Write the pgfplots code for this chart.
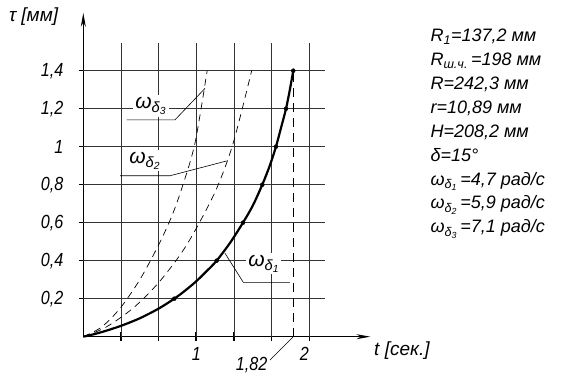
\documentclass[border=0pt]{standalone}
\usepackage{fontspec}
\setmainfont{Liberation Sans}
\newfontfamily\narrowf{Liberation Sans}[FakeStretch=0.85]
\usepackage{pgfplots}
\pgfplotsset{compat=1.18}
\usetikzlibrary{arrows.meta}

\begin{document}
\begin{tikzpicture}[font=\itshape\fontsize{18}{21}\selectfont]
\useasboundingbox (-83.3pt,-43.3pt) rectangle (479.7pt,336.7pt);
\begin{axis}[
  at={(0pt,0pt)}, anchor=origin,
  x=113pt, y=190pt,
  xmin=0, xmax=2.54, ymin=0, ymax=1.704,
  axis lines=left,
  axis line style={line width=0.9pt, -{Stealth[length=14pt,width=5pt]}},
  clip=false,
  xtick={0.33333,0.66667,1,1.33333,1.66667,2},
  xticklabels={,,1,,,{\hspace*{-10pt}2}},
  ytick={0.2,0.4,0.6,0.8,1,1.2,1.4},
  yticklabels={{0,2},{0,4},{0,6},{0,8},{1},{1,2},{1,4}},
  tick align=center,
  major tick length=9pt,
  tick style={line width=1.6pt, black},
  tick label style={font=\narrowf\itshape\fontsize{19}{22}\selectfont},
  xticklabel style={anchor=north, yshift=-3pt},
  yticklabel style={anchor=east, xshift=-12pt},
]
% grid
\pgfplotsinvokeforeach{0.33333,0.66667,1,1.33333,1.66667,2}{
  \draw[black!80, line width=0.85pt] (axis cs:#1,0) -- (axis cs:#1,1.546);
}
\pgfplotsinvokeforeach{0.2,0.4,0.6,0.8,1,1.2,1.4}{
  \draw[black!80, line width=0.85pt] (axis cs:0,#1) -- (axis cs:2.14,#1);
}
% omega_delta3
\addplot[black, line width=0.7pt, dash pattern=on 7pt off 5pt, smooth] coordinates {
 (0,0) (0.16,0.05) (0.325,0.149) (0.50,0.30) (0.664,0.48) (0.78,0.63) (0.871,0.78) (0.988,1.018) (1.096,1.4)};
% omega_delta2
\addplot[black, line width=0.7pt, dash pattern=on 7pt off 5pt, smooth] coordinates {
 (0,0) (0.2,0.05) (0.44,0.15) (0.66,0.28) (0.856,0.43) (1.0,0.57) (1.18,0.78) (1.327,1.02) (1.49,1.4)};
% t = 1.82 dashed
\addplot[black, line width=0.8pt, dash pattern=on 9pt off 6pt] coordinates {(1.858,0) (1.858,1.4)};
% omega_delta1
\addplot[black, line width=2.2pt, smooth] coordinates {
 (0,0) (0.1,0.014) (0.2,0.031) (0.333,0.057) (0.5,0.097) (0.667,0.148) (0.805,0.2) (0.9,0.242) (1.0,0.292) (1.1,0.35) (1.18,0.4) (1.3,0.495) (1.413,0.6) (1.5,0.69) (1.584,0.8) (1.65,0.9) (1.705,1.0) (1.75,1.1) (1.794,1.2) (1.828,1.3) (1.858,1.4)};
\addplot[black, only marks, mark=*, mark size=2pt] coordinates {
 (0.805,0.2) (1.18,0.4) (1.413,0.6) (1.584,0.8) (1.705,1.0) (1.794,1.2) (1.858,1.4)};
% labels
\node[fill=white, inner sep=2pt, font=\itshape\fontsize{21}{24}\selectfont] at (axis cs:0.599,1.214) {ω\textsubscript{δ\textsubscript{3}}};
\node[fill=white, inner sep=2pt, font=\itshape\fontsize{21}{24}\selectfont] at (axis cs:0.546,0.925) {ω\textsubscript{δ\textsubscript{2}}};
\node[fill=white, inner sep=2pt, font=\itshape\fontsize{21}{24}\selectfont] at (axis cs:1.598,0.383) {ω\textsubscript{δ\textsubscript{1}}};
\draw[black, line width=0.6pt] (axis cs:0.384,1.141) -- (axis cs:0.811,1.141) -- (axis cs:1.077,1.307);
\draw[black, line width=0.6pt] (axis cs:0.325,0.847) -- (axis cs:0.767,0.847) -- (axis cs:1.269,0.925);
\draw[black, line width=0.6pt] (axis cs:1.254,0.439) -- (axis cs:1.416,0.286) -- (axis cs:1.829,0.286);
\draw[black, line width=0.6pt] (axis cs:1.858,0) -- (axis cs:1.652,-0.123);
\node[font=\narrowf\itshape\fontsize{19}{22}\selectfont] at (axis cs:1.489,-0.149) {1,82};
\node[font=\itshape\fontsize{19}{22}\selectfont] at (axis cs:2.82,-0.075) {t [сек.]};
\node[font=\itshape\fontsize{19}{22}\selectfont] at (axis cs:-0.44,1.683) {τ [мм]};
\end{axis}
\begin{scope}[font=\itshape\fontsize{18}{21}\selectfont]
\node[anchor=base west] at (343.7pt,295.0pt) {R\textsubscript{1}=137,2 мм};
\node[anchor=base west] at (343.7pt,271.1pt) {R\textsubscript{ш.ч.}\,=198 мм};
\node[anchor=base west] at (343.7pt,247.2pt) {R=242,3 мм};
\node[anchor=base west] at (343.7pt,223.3pt) {r=10,89 мм};
\node[anchor=base west] at (343.7pt,199.4pt) {H=208,2 мм};
\node[anchor=base west] at (343.7pt,175.5pt) {δ=15°};
\node[anchor=base west] at (343.7pt,151.6pt) {ω\textsubscript{δ\textsubscript{1}}\,=4,7 рад/с};
\node[anchor=base west] at (343.7pt,127.7pt) {ω\textsubscript{δ\textsubscript{2}}\,=5,9 рад/с};
\node[anchor=base west] at (343.7pt,103.8pt) {ω\textsubscript{δ\textsubscript{3}}\,=7,1 рад/с};
\end{scope}
\end{tikzpicture}
\end{document}
